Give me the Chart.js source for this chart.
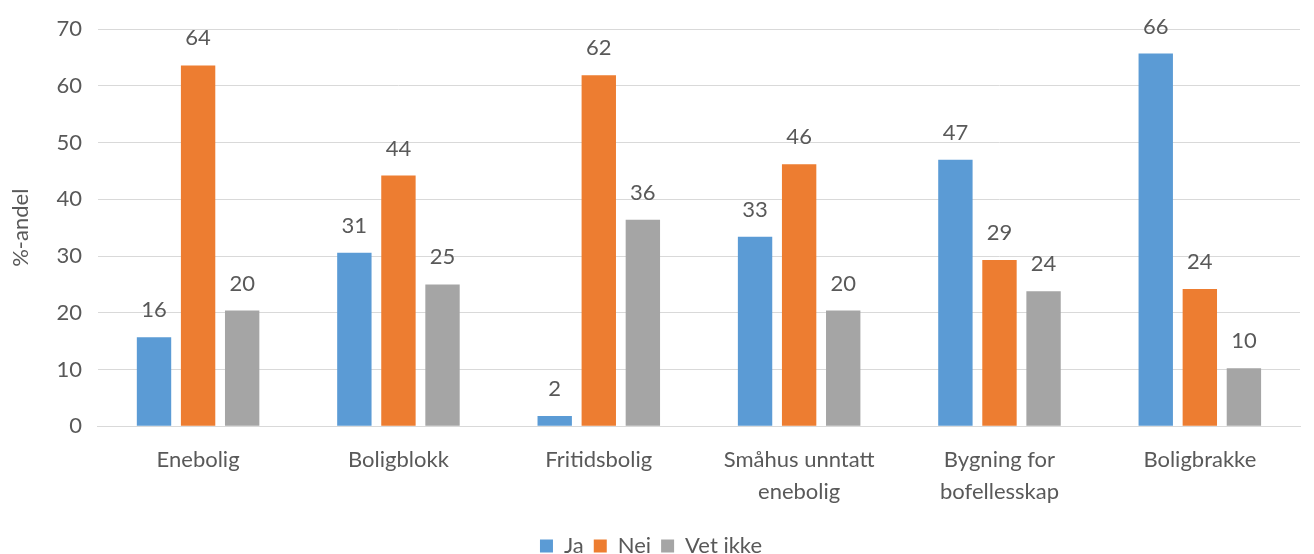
<!DOCTYPE html>
<html>
<head>
<meta charset="utf-8">
<script src="https://cdn.jsdelivr.net/npm/chart.js@4"></script>
<style>
  html, body { margin: 0; padding: 0; background: #fff; }
  #wrap { width: 1314px; height: 554px; }
</style>
</head>
<body>
<div id="wrap"><canvas id="chart"></canvas></div>
<script>
const categories = ['Enebolig', 'Boligblokk', 'Fritidsbolig', ['Småhus unntatt', 'enebolig'], ['Bygning for', 'bofellesskap'], 'Boligbrakke'];
const ja = [15.7, 30.6, 1.8, 33.4, 47.0, 65.7];
const nei = [63.6, 44.2, 61.9, 46.2, 29.3, 24.2];
const vetIkke = [20.4, 25.0, 36.4, 20.4, 23.8, 10.2];
const yTicks = [0, 10, 20, 30, 40, 50, 60, 70];

const textColor = '#595959';
const fontFamily = 'Lato, "Open Sans", sans-serif';
const fontSize = 22;

const valueLabels = {
    id: 'valueLabels',
    afterDatasetsDraw(chart) {
        const ctx = chart.ctx;
        ctx.save();
        ctx.fillStyle = textColor;
        ctx.font = fontSize + 'px ' + fontFamily;
        ctx.textAlign = 'center';
        ctx.textBaseline = 'alphabetic';
        chart.data.datasets.forEach((ds, i) => {
            chart.getDatasetMeta(i).data.forEach((bar, j) => {
                ctx.fillText(Math.round(ds.data[j]), bar.x, bar.y - 20);
            });
        });
        ctx.restore();
    }
};

new Chart(document.getElementById('chart'), {
    type: 'bar',
    data: {
        labels: categories,
        datasets: [
            { label: 'Ja', data: ja, backgroundColor: '#5B9BD5' },
            { label: 'Nei', data: nei, backgroundColor: '#ED7D31' },
            { label: 'Vet ikke', data: vetIkke, backgroundColor: '#A5A5A5' }
        ]
    },
    options: {
        responsive: true,
        maintainAspectRatio: false,
        animation: false,
        categoryPercentage: 0.66,
        barPercentage: 0.78,
        layout: { padding: { top: 7, right: 14, left: 2, bottom: -13 } },
        plugins: {
            legend: {
                position: 'bottom',
                labels: {
                    color: textColor,
                    font: { size: fontSize, family: fontFamily },
                    boxWidth: 13,
                    boxHeight: 13,
                    padding: 10
                }
            },
            tooltip: { enabled: false }
        },
        scales: {
            x: {
                grid: { display: false },
                border: { color: '#D9D9D9' },
                afterFit: axis => { axis.height += 7; },
                ticks: {
                    color: textColor,
                    font: { size: fontSize, family: fontFamily, lineHeight: 1.45 },
                    padding: 10,
                    maxRotation: 0
                }
            },
            y: {
                min: 0,
                max: 70,
                afterBuildTicks: axis => { axis.ticks = yTicks.map(v => ({ value: v })); },
                grid: { color: '#D9D9D9', drawTicks: false },
                border: { display: false },
                ticks: {
                    color: textColor,
                    font: { size: fontSize, family: fontFamily },
                    padding: 16
                },
                title: {
                    display: true,
                    text: '%-andel',
                    color: textColor,
                    font: { size: fontSize, family: fontFamily },
                    padding: 6
                }
            }
        }
    },
    plugins: [valueLabels]
});
</script>
</body>
</html>
